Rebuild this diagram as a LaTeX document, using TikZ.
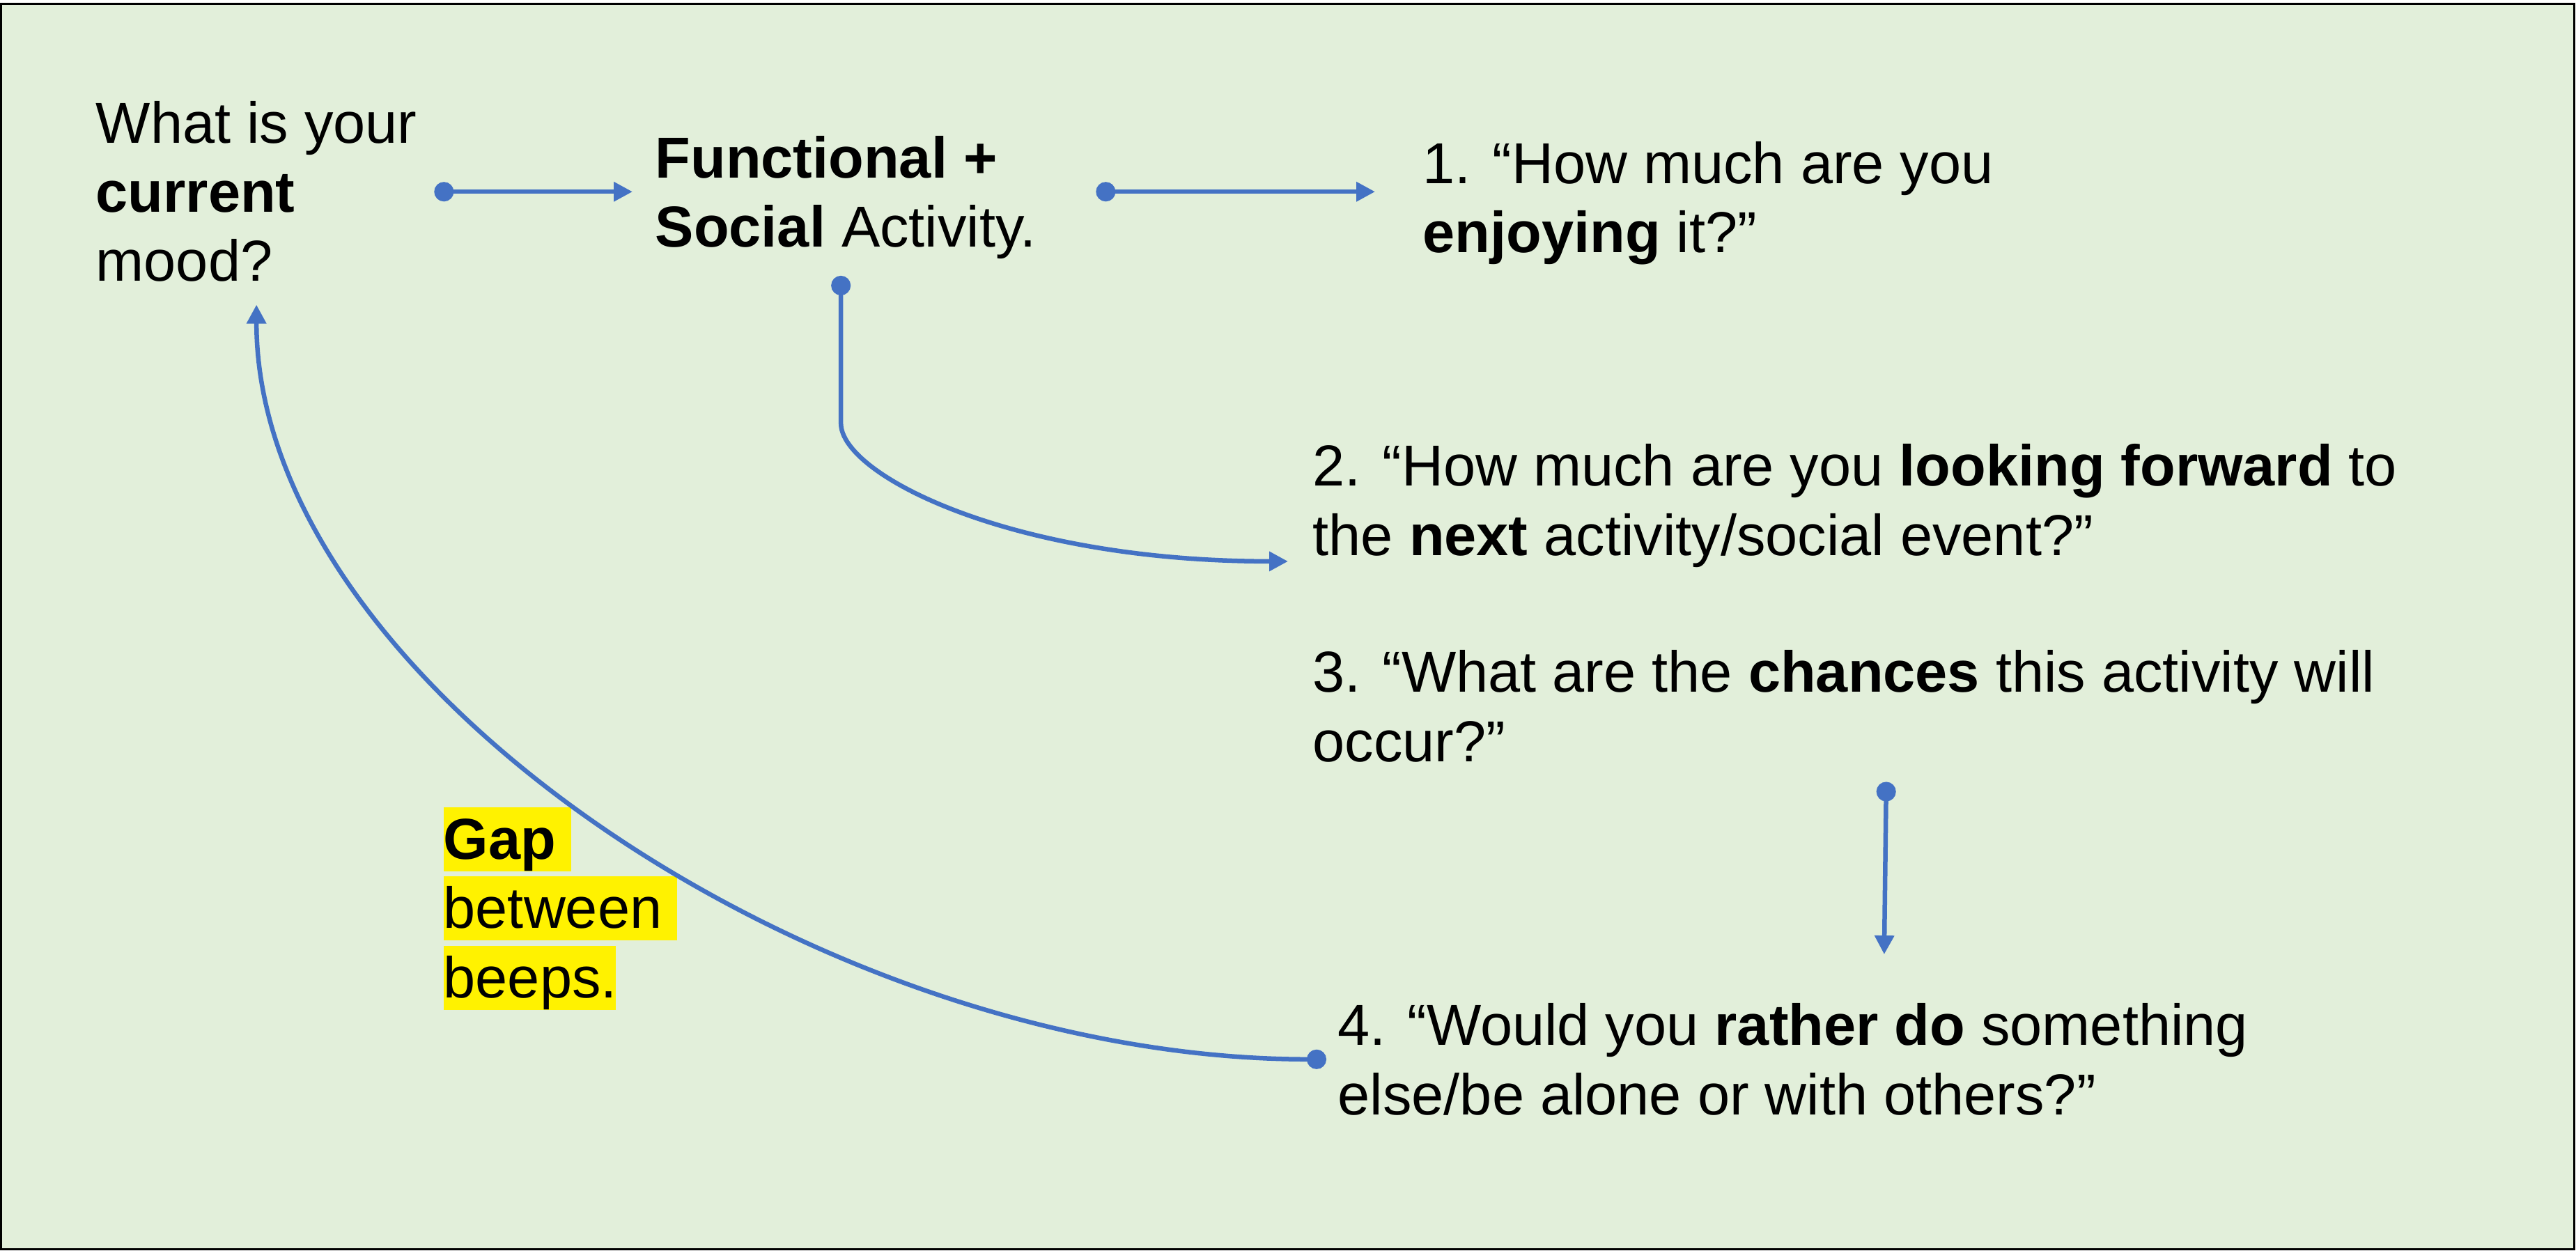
\documentclass[tikz,border=0pt]{standalone}
\usepackage{fontspec}
\setmainfont{Liberation Sans}
\usetikzlibrary{arrows.meta,calc}
\definecolor{linkblue}{HTML}{4472C4}
\definecolor{panelgreen}{HTML}{E2EFDA}
\tikzset{
	txt/.style={align=left, inner sep=0pt, anchor=base west, font=\fontsize{23.6}{28.2}\selectfont},
	gapbox/.style={txt, fill=yellow, text height=0.74cm, text depth=0.18cm},
	link/.style={draw=linkblue, line width=0.065cm, arrows={Circle[length=2.8mm]-Triangle[length=2.7mm,width=2.7mm]}}
}
\begin{document}
\begin{tikzpicture}
		\useasboundingbox (0,0) rectangle (36.98,-17.96);
		\draw [line width=0.03cm, fill=panelgreen] (0.015,-0.055) rectangle (36.955,-17.935);
		% questions (placed at the baseline of their last line)
		\node [txt] (mood) at (1.37,-4.04) {What is your\\\textbf{current}\\mood?};
		\node [txt] (func) at (9.40,-3.55) {\textbf{Functional +}\\\textbf{Social} Activity.};
		\node [txt] (q1) at (20.42,-3.63) {1. “How much are you\\\textbf{enjoying} it?”};
		\node [txt] (q2) at (18.84,-7.97) {2. “How much are you \textbf{looking forward} to\\the \textbf{next} activity/social event?”};
		\node [txt] (q3) at (18.84,-10.93) {3. “What are the \textbf{chances} this activity will\\occur?”};
		\node [txt] (q4) at (19.20,-16.00) {4. “Would you \textbf{rather do} something\\else/be alone or with others?”};
		% gap label
		\node [gapbox, text width=1.83cm] (gap1) at (6.36,-12.33) {\textbf{Gap}};
		\node [gapbox, text width=3.35cm] (gap2) at (6.36,-13.32) {between};
		\node [gapbox, text width=2.47cm] (gap3) at (6.36,-14.32) {beeps.};
		% connectors
		\draw [link] ([xshift=2.4mm]mood.east) -- ($(func.west |- mood.east)+(-0.32,0)$);
		\draw [link] ($(func.east |- mood.east)+(0.85,0)$) -- ($(q1.west |- mood.east)+(-0.68,0)$);
		\draw [link] ([shift={(-0.07,-0.23)}]func.south) -- ++(0,-2.12) .. controls +(0,-0.73) and +(-4.0,0) .. ([shift={(-0.35,0.09)}]q2.south west);
		\draw [link] ([shift={(0.61,-0.28)}]q3.south) -- ($(q4.north -| q3.south)+(0.58,0.70)$);
		\draw [link] ([xshift=-1.6mm]q4.west) .. controls +(-7.3,0) and +(0,-5.4) .. ([yshift=-3.2mm]mood.south);
	\end{tikzpicture}
\end{document}
